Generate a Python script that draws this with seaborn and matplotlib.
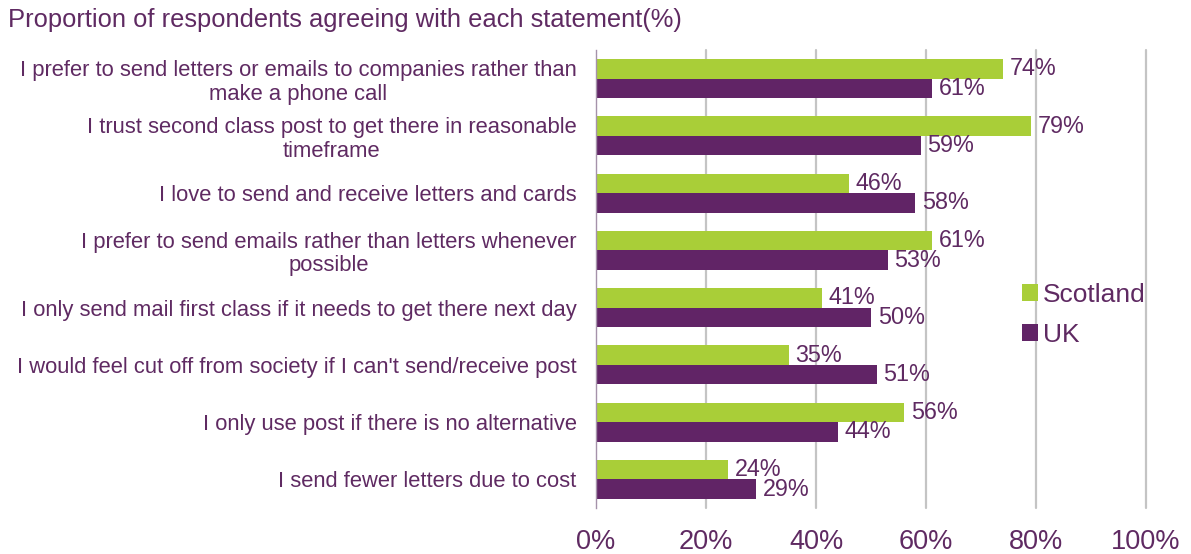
import matplotlib
matplotlib.use("Agg")
import matplotlib.pyplot as plt
from matplotlib.patches import Patch
import numpy as np
import pandas as pd
import seaborn as sns

# Survey statements and the share agreeing (%)
statements = [
    "I prefer to send letters or emails to companies rather than\nmake a phone call",
    "I trust second class post to get there in reasonable\ntimeframe",
    "I love to send and receive letters and cards",
    "I prefer to send emails rather than letters whenever\npossible",
    "I only send mail first class if it needs to get there next day",
    "I would feel cut off from society if I can't send/receive post",
    "I only use post if there is no alternative",
    "I send fewer letters due to cost",
]
scotland = [74, 79, 46, 61, 41, 35, 56, 24]
uk = [61, 59, 58, 53, 50, 51, 44, 29]
regions = ["Scotland", "UK"]
x_ticks = [0, 20, 40, 60, 80, 100]

GREEN = "#A9CE38"
PURPLE = "#612466"
TEXT = "#5F2A62"
GRID = "#C4C4C4"

sns.set_style("white")
plt.rcParams["font.family"] = ["Liberation Sans", "DejaVu Sans"]

df = pd.DataFrame({
    "statement": statements * 2,
    "value": scotland + uk,
    "region": [regions[0]] * len(statements) + [regions[1]] * len(statements),
})

W, H = 1191, 554
fig = plt.figure(figsize=(W / 100, H / 100), dpi=100)
ax = fig.add_axes([596 / W, 1 - 508 / H, (1146 - 596) / W, (508 - 50) / H])

sns.barplot(
    data=df, y="statement", x="value", hue="region", orient="h",
    palette=[GREEN, PURPLE], width=0.68, saturation=1, ax=ax,
    legend=False, order=statements, hue_order=regions, zorder=3,
    linewidth=0, edgecolor="none",
)

for cont in ax.containers:
    ax.bar_label(cont, labels=[f"{v:.0f}%" for v in cont.datavalues],
                 padding=5, fontsize=16.8, color=TEXT)

ax.set_xlim(0, 100)
ax.set_ylim(len(statements) - 0.5, -0.5)
ax.set_xlabel("")
ax.set_ylabel("")

# vertical gridlines
for t in x_ticks[1:]:
    ax.axvline(t, color=GRID, lw=1.6, zorder=0, clip_on=False)

ax.set_xticks(x_ticks)
ax.set_xticklabels([f"{t}%" for t in x_ticks], fontsize=19.5, color=TEXT)
ax.tick_params(axis="x", length=0, pad=15)

ax.tick_params(axis="y", which="major", length=0, pad=14, labelsize=15.8,
               labelcolor=TEXT)
for lab in ax.get_yticklabels():
    lab.set_multialignment("center")
    lab.set_linespacing(1.15)
ax.set_yticks(np.arange(-0.5, len(statements)), minor=True)
ax.tick_params(axis="y", which="minor", length=6, width=1, color="#A592AA",
               direction="out")

for s in ["top", "right", "bottom"]:
    ax.spines[s].set_visible(False)
ax.spines["left"].set_color("#A592AA")
ax.spines["left"].set_linewidth(1)
ax.spines["left"].set_zorder(4)

handles = [Patch(facecolor=GREEN, edgecolor="none"),
           Patch(facecolor=PURPLE, edgecolor="none")]
fig.legend(handles, regions, loc="center left",
           bbox_to_anchor=(1009 / W, 1 - 315 / H), frameon=False,
           fontsize=19, labelcolor=TEXT, handlelength=0.6, handleheight=0.6,
           handletextpad=0.2, labelspacing=0.6, borderpad=0)

fig.text(8 / W, 1 - 20 / H,
         "Proportion of respondents agreeing with each statement(%)",
         fontsize=18.4, color=TEXT, va="center", ha="left")

fig.savefig("out.png", dpi=100)
